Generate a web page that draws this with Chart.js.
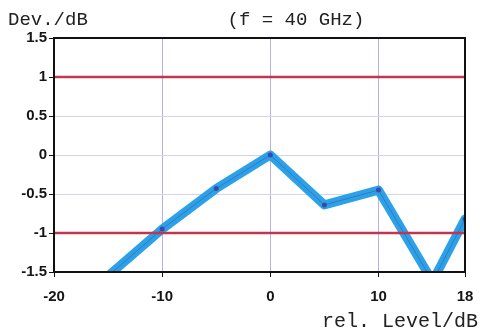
<!DOCTYPE html>
<html>
<head>
<meta charset="utf-8">
<script src="https://cdn.jsdelivr.net/npm/chart.js@4"></script>
<style>
  html, body { margin: 0; padding: 0; background: #fff; }
  #wrap { width: 480px; height: 330px; position: relative; }
</style>
</head>
<body>
<div id="wrap"><canvas id="devChart" width="480" height="330"></canvas></div>
<script>
// deviation vs. relative level, f = 40 GHz
const levels = [-20, -15, -10, -5, 0, 5, 10, 15, 18];
const deviation = [-2.2, -1.55, -0.95, -0.43, 0.0, -0.64, -0.45, -1.62, -0.82];
const xTicks = [-20, -10, 0, 10, 18];
const yTicks = [-1.5, -1, -0.5, 0, 0.5, 1, 1.5];
const limitLines = [1, -1];

const points = levels.map((x, i) => ({ x: x, y: deviation[i] }));

const tickFont = { family: 'Liberation Sans, Arial, sans-serif', size: 15, weight: 'bold' };
const monoFont = 'Liberation Mono, Courier New, monospace';

// frame + header/footer text
const framePlugin = {
    id: 'frame',
    afterDraw(chart) {
        const { ctx, chartArea } = chart;
        ctx.save();
        ctx.strokeStyle = '#111';
        ctx.lineWidth = 2;
        ctx.strokeRect(chartArea.left, chartArea.top,
            chartArea.right - chartArea.left, chartArea.bottom - chartArea.top);

        ctx.fillStyle = '#222';
        ctx.font = '19px ' + monoFont;
        ctx.textBaseline = 'middle';
        ctx.textAlign = 'left';
        ctx.fillText('Dev./dB', 8, 20);
        ctx.textAlign = 'center';
        ctx.fillText('(f = 40 GHz)', 296, 20);
        ctx.textAlign = 'right';
        ctx.font = '20px ' + monoFont;
        ctx.fillText('rel. Level/dB', 478, 322);
        ctx.restore();
    }
};

const datasets = [
    {
        // thick trace
        data: points,
        borderColor: '#2ba2e8',
        borderWidth: 9,
        borderJoinStyle: 'round',
        borderCapStyle: 'round',
        pointRadius: 0,
        tension: 0,
        clip: 0,
        order: 3
    },
    {
        // thin centre line with markers
        data: points,
        borderColor: '#3d74c6',
        borderWidth: 1,
        pointRadius: 2.5,
        pointBackgroundColor: '#3b4aa8',
        pointBorderWidth: 0,
        tension: 0,
        clip: 0,
        order: 2
    }
];

limitLines.forEach(v => {
    datasets.push({
        data: [{ x: xTicks[0], y: v }, { x: xTicks[xTicks.length - 1], y: v }],
        borderColor: '#c2354f',
        borderWidth: 2.5,
        pointRadius: 0,
        clip: 0,
        order: 1
    });
});

new Chart(document.getElementById('devChart'), {
    type: 'line',
    data: { datasets: datasets },
    options: {
        responsive: false,
        animation: false,
        events: [],
        layout: { padding: { left: 0, top: 38, right: 15, bottom: 0 } },
        plugins: { legend: { display: false }, tooltip: { enabled: false } },
        scales: {
            x: {
                type: 'linear',
                min: xTicks[0],
                max: xTicks[xTicks.length - 1],
                afterBuildTicks: scale => { scale.ticks = xTicks.map(v => ({ value: v })); },
                afterFit: scale => {
                    scale.height = 58;
                    scale.paddingLeft = 0;
                    scale.paddingRight = 0;
                },
                grid: { color: '#b9b1ea', lineWidth: 1, tickLength: 5, tickColor: '#111' },
                border: { display: false },
                ticks: { font: tickFont, color: '#151515', padding: 11, maxRotation: 0,
                    callback: v => String(v) }
            },
            y: {
                type: 'linear',
                min: -1.5,
                max: 1.5,
                afterBuildTicks: scale => { scale.ticks = yTicks.map(v => ({ value: v })); },
                afterFit: scale => { scale.width = 54; },
                grid: { color: '#d2d5ee', lineWidth: 1, tickLength: 5, tickColor: '#111' },
                border: { display: false },
                ticks: { font: tickFont, color: '#151515', padding: 2,
                    callback: v => String(v) }
            }
        }
    },
    plugins: [framePlugin]
});
</script>
</body>
</html>
